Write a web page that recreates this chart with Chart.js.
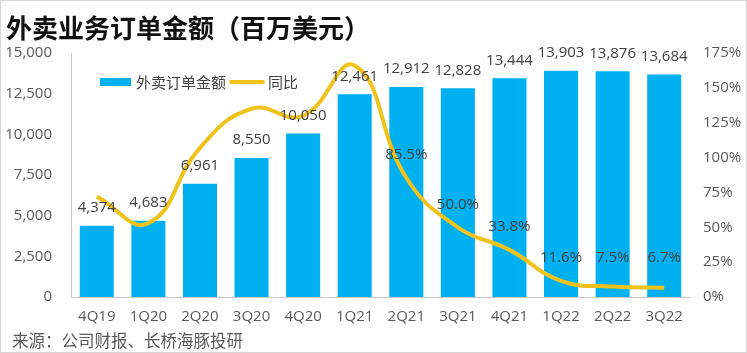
<!DOCTYPE html>
<html>
<head>
<meta charset="utf-8">
<script src="https://cdn.jsdelivr.net/npm/chart.js@4/dist/chart.umd.min.js"></script>
<style>
  html, body { margin: 0; padding: 0; background: #fff; }
  #wrap { position: relative; width: 747px; height: 353px; box-sizing: border-box; border: 1px solid #d6d6d6; overflow: hidden; }
  #c { position: absolute; left: 0; top: 0; }
  #title { position: absolute; left: 5px; top: 8px; font-family: "Noto Sans CJK SC", sans-serif; font-weight: 700; font-size: 26px; line-height: 36px; color: #111; white-space: nowrap; }
  #source { position: absolute; left: 11px; top: 327px; font-family: "Noto Sans CJK SC", sans-serif; font-size: 16.5px; line-height: 24px; color: #595959; white-space: nowrap; }
</style>
</head>
<body>
<div id="wrap">
  <canvas id="c" width="747" height="353"></canvas>
  <div id="title">外卖业务订单金额（百万美元）</div>
  <div id="source">来源：公司财报、长桥海豚投研</div>
</div>
<script>
const categories = ["4Q19","1Q20","2Q20","3Q20","4Q20","1Q21","2Q21","3Q21","4Q21","1Q22","2Q22","3Q22"];
const orderValue = [4374, 4683, 6961, 8550, 10050, 12461, 12912, 12828, 13444, 13903, 13876, 13684];
const yoyPct = [72, 53, 107, 135, 130, 166, 85.5, 50.0, 33.8, 11.6, 7.5, 6.7];
const yoyLabelShown = [false, false, false, false, false, false, true, true, true, true, true, true];
const leftTicks = [0, 2500, 5000, 7500, 10000, 12500, 15000];
const rightTicks = [0, 25, 50, 75, 100, 125, 150, 175];
const seriesNames = ["外卖订单金额", "同比"];

const BAR = "#00B0F0";
const LINE = "#F0C21C";
const TXT = "#404040";
const NUMFONT = "'Open Sans', 'Noto Sans', sans-serif";

const labelPlugin = {
  id: "labels",
  afterDatasetsDraw(chart) {
    const ctx = chart.ctx;
    ctx.save();
    ctx.font = "15px " + NUMFONT;
    ctx.fillStyle = TXT;
    ctx.textAlign = "center";
    ctx.textBaseline = "middle";
    const barMeta = chart.getDatasetMeta(1);
    barMeta.data.forEach((el, i) => {
      ctx.fillText(orderValue[i].toLocaleString("en-US"), el.x, el.y - 18);
    });
    const lineMeta = chart.getDatasetMeta(0);
    lineMeta.data.forEach((el, i) => {
      if (!yoyLabelShown[i]) return;
      const y = Math.min(el.y - 23, 257);
      ctx.fillText(yoyPct[i].toFixed(1) + "%", el.x, y);
    });
    // legend
    ctx.fillStyle = BAR;
    ctx.fillRect(99, 77, 31, 8);
    ctx.font = "15px 'Noto Sans CJK SC', sans-serif";
    ctx.fillStyle = TXT;
    ctx.textAlign = "left";
    ctx.fillText(seriesNames[0], 135, 81);
    ctx.strokeStyle = LINE;
    ctx.lineWidth = 4;
    ctx.lineCap = "round";
    ctx.beginPath();
    ctx.moveTo(230, 81);
    ctx.lineTo(262, 81);
    ctx.stroke();
    ctx.fillText(seriesNames[1], 267, 81);
    ctx.restore();
  }
};

new Chart(document.getElementById("c"), {
  data: {
    labels: categories,
    datasets: [
      {
        type: "line",
        label: seriesNames[1],
        data: yoyPct,
        yAxisID: "y2",
        borderColor: LINE,
        borderWidth: 4,
        pointRadius: 0,
        tension: 0.45,
        fill: false,
        order: 0
      },
      {
        type: "bar",
        label: seriesNames[0],
        data: orderValue,
        yAxisID: "y",
        backgroundColor: BAR,
        barPercentage: 0.66,
        categoryPercentage: 1.0,
        order: 1
      }
    ]
  },
  options: {
    responsive: false,
    animation: false,
    layout: { padding: { top: 52, bottom: 0, left: 0, right: 0 } },
    plugins: { legend: { display: false }, tooltip: { enabled: false }, title: { display: false } },
    scales: {
      x: {
        grid: { display: false, drawTicks: false },
        border: { display: true, color: "#c8c8c8", width: 1 },
        ticks: { color: "#595959", font: { size: 15, family: NUMFONT }, padding: 11, maxRotation: 0, autoSkip: false },
        afterFit(s) { s.height = 57; }
      },
      y: {
        position: "left",
        min: 0, max: 15000,
        afterBuildTicks(s) { s.ticks = leftTicks.map(v => ({ value: v })); },
        grid: { display: false, drawTicks: false },
        border: { display: true, color: "#c8c8c8", width: 1 },
        ticks: { color: "#595959", font: { size: 15, family: NUMFONT }, padding: 19, callback: v => v.toLocaleString("en-US") },
        afterFit(s) { s.width = 70; }
      },
      y2: {
        position: "right",
        min: 0, max: 175,
        afterBuildTicks(s) { s.ticks = rightTicks.map(v => ({ value: v })); },
        grid: { display: false, drawTicks: false },
        border: { display: false },
        ticks: { color: "#595959", font: { size: 15, family: NUMFONT }, padding: 13, callback: v => v + "%" },
        afterFit(s) { s.width = 58; }
      }
    }
  },
  plugins: [labelPlugin]
});
</script>
</body>
</html>
